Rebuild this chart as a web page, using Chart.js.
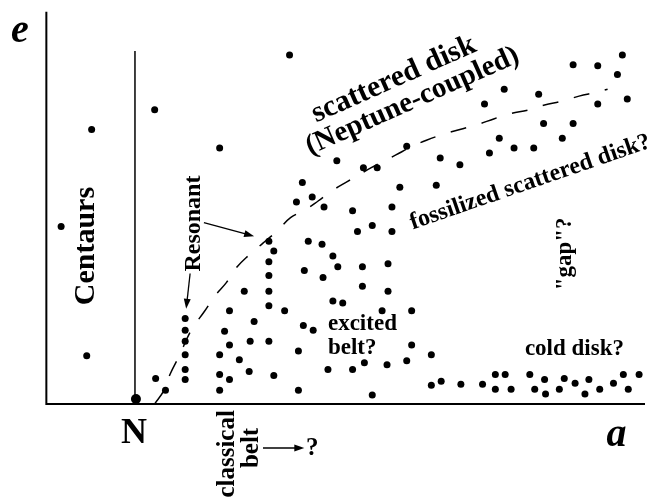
<!DOCTYPE html>
<html>
<head>
<meta charset="utf-8">
<script src="https://cdn.jsdelivr.net/npm/chart.js@4"></script>
<style>
  body { margin: 0; background: #fff; }
  canvas { display: block; }
</style>
</head>
<body>
<canvas id="myChart" width="650" height="501"></canvas>
<script>
// a = semimajor axis, e = eccentricity (schematic units, origin at the axes corner)
const objA = [46, 110, 176, 247, 15, 41, 111, 121, 141, 141, 141, 141, 141, 141,
    176, 176, 176, 181, 186, 186, 186, 196, 201, 206, 207, 211,
    226, 226, 226, 226, 226, 226, 231, 231, 242, 254, 256, 256, 260, 261, 262, 266, 271, 270,
    280, 281, 282, 286, 291, 291, 296, 301, 295, 311, 311, 316, 321, 321, 322, 323, 331, 331, 336,
    341, 346, 347, 347, 351, 351, 359, 366, 366, 371, 371, 391, 391, 401, 396, 400, 420, 421, 443,
    445, 450, 456, 456, 460, 465, 466, 472, 475, 491, 495, 496, 500, 505, 506, 507, 521, 524, 526,
    535, 535, 537, 547, 551, 560, 560, 562, 576, 580, 585, 586, 590, 591, 602];
const objE = [280, 300, 261, 356, 181, 49, 26, 14, 87, 75, 64, 50, 35, 25,
    50, 30, 14, 74, 95, 60, 25, 45, 115, 33, 64, 84,
    166, 145, 131, 115, 100, 64, 156, 29, 95, 206, 54, 14, 226, 80, 136, 166, 75, 211,
    163, 129, 201, 35, 151, 105, 140, 103, 248, 197, 35, 176, 140, 120, 241, 42, 182, 9, 241,
    95, 40, 143, 115, 201, 176, 221, 44, 263, 95, 60, 50, 19, 23, 223, 251, 244, 20, 20,
    306, 256, 30, 15, 271, 321, 30, 15, 261, 30, 261, 15, 316, 286, 25, 10, 15, 271, 26,
    346, 286, 21, 10, 25, 345, 306, 15, 21, 336, 356, 30, 311, 15, 30];

// Neptune
const neptuneA = 91;
const neptuneE = 5;

// q = const boundary (dashed)
const curveA = [110, 119, 126, 135, 147, 161, 171, 183, 193, 206, 220, 235, 248, 263, 276, 291,
    306, 330, 355, 370, 386, 403, 420, 438, 455, 471, 490, 506, 524, 541, 559, 570];
const curveE = [0, 13, 31, 49, 75, 95, 110, 124, 139, 152, 164, 177, 190, 198, 207, 218,
    227, 241, 254, 262, 269, 275, 280, 285, 291, 296, 300, 305, 309, 314, 318, 321];

const axisA = [0, 0, 608];
const axisE = [400, 0, 0];
const nLineA = [90, 90];
const nLineE = [0, 360];

const serif = "'Liberation Serif', 'Times New Roman', serif";

const texts = [
    { text: 'e', a: -36, e: 369, size: 40, italic: true, align: 'left', base: 'alphabetic' },
    { text: 'a', a: 569, e: -43, size: 40, italic: true, align: 'left', base: 'alphabetic' },
    { text: 'N', a: 89, e: -40, size: 36, align: 'center', base: 'alphabetic' },
    { text: 'Centaurs', a: 41, e: 161, size: 30, rot: -90 },
    { text: 'Resonant', a: 150, e: 184, size: 24, rot: -90 },
    { text: 'excited', a: 286, e: 75, size: 23, align: 'left', base: 'alphabetic' },
    { text: 'belt?', a: 286, e: 51, size: 23, align: 'left', base: 'alphabetic' },
    { text: 'cold disk?', a: 486, e: 50, size: 23, align: 'left', base: 'alphabetic' },
    { text: '"gap"?', a: 527, e: 153, size: 23, rot: -90 },
    { text: 'scattered disk', a: 274, e: 287, size: 30, rot: -24, align: 'left', base: 'alphabetic' },
    { text: '(Neptune-coupled)', a: 268, e: 254, size: 29, rot: -24, align: 'left', base: 'alphabetic' },
    { text: 'fossilized scattered disk?', a: 372, e: 178, size: 24, rot: -19, align: 'left', base: 'alphabetic' },
    { text: 'classical', a: 184, e: -51, size: 25, rot: -90 },
    { text: 'belt', a: 208, e: -45, size: 25, rot: -90 },
    { text: '?', a: 270, e: -46, size: 25 }
];

const arrows = [
    { from: [146, 133], to: [142, 97] },
    { from: [160, 185], to: [211, 171] },
    { from: [220, -45], to: [262, -45] }
];

const toPoints = (xs, ys) => xs.map((x, i) => ({ x: x, y: ys[i] }));

const annotate = {
    id: 'annotate',
    afterDatasetsDraw(chart) {
        const ctx = chart.ctx;
        const sx = chart.scales.x;
        const sy = chart.scales.y;
        ctx.save();
        ctx.fillStyle = '#000';
        ctx.strokeStyle = '#000';
        texts.forEach((t) => {
            ctx.save();
            ctx.translate(sx.getPixelForValue(t.a), sy.getPixelForValue(t.e));
            if (t.rot) ctx.rotate(t.rot * Math.PI / 180);
            ctx.font = (t.italic ? 'italic ' : '') + 'bold ' + t.size + 'px ' + serif;
            ctx.textAlign = t.align || 'center';
            ctx.textBaseline = t.base || 'middle';
            ctx.fillText(t.text, 0, 0);
            ctx.restore();
        });
        ctx.lineWidth = 1.3;
        arrows.forEach((ar) => {
            const x1 = sx.getPixelForValue(ar.from[0]);
            const y1 = sy.getPixelForValue(ar.from[1]);
            const x2 = sx.getPixelForValue(ar.to[0]);
            const y2 = sy.getPixelForValue(ar.to[1]);
            const ang = Math.atan2(y2 - y1, x2 - x1);
            ctx.beginPath();
            ctx.moveTo(x1, y1);
            ctx.lineTo(x2 - 6 * Math.cos(ang), y2 - 6 * Math.sin(ang));
            ctx.stroke();
            ctx.beginPath();
            ctx.moveTo(x2, y2);
            ctx.lineTo(x2 - 10 * Math.cos(ang) + 3.5 * Math.sin(ang), y2 - 10 * Math.sin(ang) - 3.5 * Math.cos(ang));
            ctx.lineTo(x2 - 10 * Math.cos(ang) - 3.5 * Math.sin(ang), y2 - 10 * Math.sin(ang) + 3.5 * Math.cos(ang));
            ctx.closePath();
            ctx.fill();
        });
        ctx.restore();
    }
};

const ctx = document.getElementById('myChart');
const myChart = new Chart(ctx, { // eslint-disable-line
    type: 'scatter',
    data: {
        datasets: [
            {
                data: toPoints(axisA, axisE),
                showLine: true,
                borderColor: '#000',
                borderWidth: 2,
                pointRadius: 0
            },
            {
                data: toPoints(nLineA, nLineE),
                showLine: true,
                borderColor: '#000',
                borderWidth: 1.5,
                pointRadius: 0
            },
            {
                data: toPoints(curveA, curveE),
                showLine: true,
                borderColor: '#000',
                borderWidth: 1.5,
                borderDash: [16, 16],
                tension: 0.4,
                pointRadius: 0
            },
            {
                data: toPoints(objA, objE),
                backgroundColor: '#000',
                borderWidth: 0,
                pointRadius: 3.5
            },
            {
                data: [{ x: neptuneA, y: neptuneE }],
                backgroundColor: '#000',
                borderWidth: 0,
                pointRadius: 5
            }
        ]
    },
    options: {
        responsive: false,
        animation: false,
        devicePixelRatio: 1,
        layout: { padding: 0 },
        plugins: {
            legend: { display: false },
            tooltip: { enabled: false }
        },
        scales: {
            x: { type: 'linear', display: false, min: -42, max: 608 },
            y: { type: 'linear', display: false, min: -94, max: 407 }
        }
    },
    plugins: [annotate]
});
</script>
</body>
</html>
